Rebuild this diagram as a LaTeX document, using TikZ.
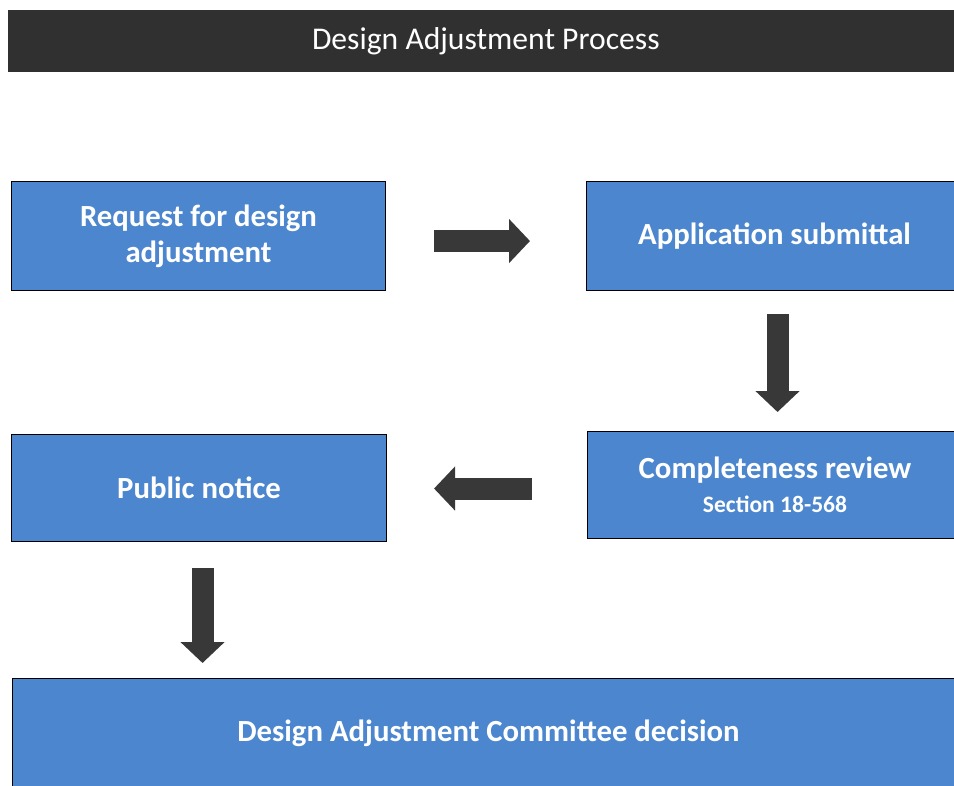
\documentclass[tikz,border=0pt]{standalone}
\usepackage{fontspec}
\setmainfont{Carlito}
\usetikzlibrary{arrows.meta}

\definecolor{boxblue}{RGB}{76,134,206}
\definecolor{bargray}{RGB}{48,48,48}
\definecolor{arrowgray}{RGB}{56,56,56}

\tikzset{
  step box/.style={draw=black, line width=0.6pt, fill=boxblue, text=white,
    font=\fontsize{17.5}{22.5}\selectfont\bfseries, align=center,
    anchor=north west, inner sep=0pt},
  big arrow/.style={draw=arrowgray, line width=0.44cm,
    -{Triangle[width=0.86cm, length=0.42cm]}}
}

\begin{document}
\begin{tikzpicture}[x=0.02cm, y=-0.02cm]
      \useasboundingbox (0,0) rectangle (954,785);
      % title bar
      \node (bar) [fill=bargray, anchor=north west, inner sep=0pt,
        minimum width=0.02cm*955, minimum height=0.02cm*62,
        text=white, font=\fontsize{18}{21}\selectfont] at (8,10)
        {Design Adjustment Process};
      % process boxes
      \node (req) [step box, minimum width=0.02cm*374, minimum height=0.02cm*109]
        at (11,181) {\raisebox{-2pt}{Request for design}\\adjustment};
      \node (app) [step box, minimum width=0.02cm*376, minimum height=0.02cm*109]
        at (586,181) {Application submittal};
      \node (rev) [step box, minimum width=0.02cm*375, minimum height=0.02cm*107]
        at (587,431) {Completeness review\\[-3pt]{\fontsize{13.4}{16}\selectfont Section 18-568}};
      \node (pub) [step box, minimum width=0.02cm*375, minimum height=0.02cm*107]
        at (11,434) {Public notice};
      \node (dec) [step box, minimum width=0.02cm*952, minimum height=0.02cm*110]
        at (12,678) {Design Adjustment Committee decision};
      % block arrows between the steps
      \draw[big arrow, shorten <=0.02cm*48, shorten >=0.02cm*56]
        ([yshift=-0.02cm*5]req.east) -- ([yshift=-0.02cm*5]app.west);
      \draw[big arrow, shorten <=0.02cm*23, shorten >=0.02cm*19]
        ([xshift=0.02cm*3]app.south) -- ([xshift=0.02cm*3]app.south |- rev.north);
      \draw[big arrow, shorten <=0.02cm*55, shorten >=0.02cm*47]
        ([yshift=-0.02cm*3.5]rev.west) -- ([yshift=-0.02cm*3.5]rev.west -| pub.east);
      \draw[big arrow, shorten <=0.02cm*26, shorten >=0.02cm*15]
        ([xshift=0.02cm*3.5]pub.south) -- ([xshift=0.02cm*3.5]pub.south |- dec.north);
    \end{tikzpicture}
\end{document}
